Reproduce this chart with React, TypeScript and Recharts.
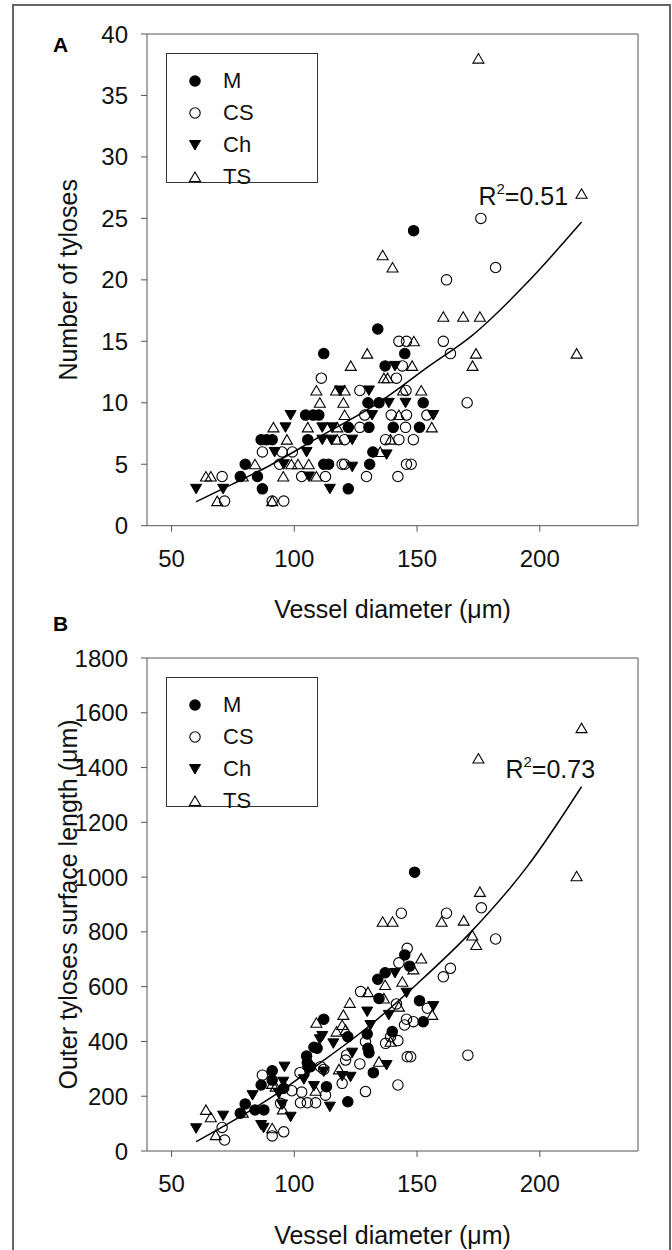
import {
    ComposedChart,
    Scatter,
    Line,
    XAxis,
    YAxis,
    Legend,
    Label,
    ReferenceLine,
    ReferenceDot,
} from 'recharts';

const FONT = '"Liberation Sans", Arial, sans-serif';
const AXIS = '#555';

type Pt = [number, number];

// Panel A: number of tyloses vs vessel diameter
const tylM: Pt[] = [
    [80, 5], [78, 4], [85, 4], [87, 3], [86.5, 7], [88.7, 7], [91, 7], [134, 16],
    [112, 14], [145, 14], [137, 13], [130, 10], [134.5, 10], [152.5, 10], [104.6, 9],
    [107.7, 9], [110, 9], [122, 8], [130.4, 8], [140.3, 8], [151, 8], [105.5, 7],
    [112, 5], [114, 5], [130.7, 5], [132, 6], [122, 3], [148.6, 24],
];
const tylCS: Pt[] = [
    [70.6, 4], [71.6, 2], [87, 6], [95, 6], [91, 2], [95.7, 2], [94, 5], [142.6, 15],
    [145.7, 15], [160.7, 15], [163.6, 14], [144, 13], [111, 12], [141.6, 12], [126.7, 11],
    [145.5, 11], [170.4, 10], [128.7, 9], [139.5, 9], [145.7, 9], [154, 9], [126.7, 8],
    [145.3, 8], [120.5, 7], [137.2, 7], [142.6, 7], [148.5, 7], [99.2, 6], [119.5, 5],
    [120.5, 5], [145.7, 5], [147.6, 5], [103, 4], [112.7, 4], [129.4, 4], [142.2, 4],
    [176, 25], [182, 21], [162, 20],
];
const tylCh: Pt[] = [
    [60, 3], [71, 3], [92, 6], [96.4, 8], [98.5, 9], [131.7, 9], [156.6, 9], [141, 13],
    [118.6, 11], [130.4, 11], [138.5, 10], [145.3, 10], [111.4, 8], [115.5, 8], [105, 6],
    [137.6, 5.8], [95.7, 5], [123.6, 4.8], [114.5, 3], [111.4, 7], [115.1, 7], [123.6, 7],
    [106, 4],
];
const tylTS: Pt[] = [
    [64, 4], [66, 4], [68.6, 2], [79, 4], [84, 5], [91.5, 8], [97, 7], [91, 2], [95.5, 4],
    [148.7, 15], [129.7, 14], [123, 13], [148, 13], [136.5, 12], [138, 12], [109, 11],
    [117, 11], [120.5, 11], [144.3, 11], [151.7, 11], [110.4, 10], [120, 10], [120.5, 9],
    [142.6, 9], [105.5, 8], [117.5, 8], [156, 8], [117.5, 7], [139.2, 7], [135, 6],
    [98.8, 5], [101.5, 5], [105.9, 5], [109, 4], [175, 38], [217, 27], [160.7, 17],
    [168.8, 17], [175.6, 17], [174, 14], [172.6, 13], [215, 14], [136, 22], [140, 21],
];
const tylFit: Pt[] = [
    [60, 1.95], [75, 3.4], [90, 4.9], [110, 7.2], [135, 10.1], [155, 13], [172, 15.4],
    [195, 19.8], [217, 24.7],
];

// Panel B: outer tyloses surface length vs vessel diameter
const lenM: Pt[] = [
    [80, 172], [78, 138], [91, 293], [86.5, 241], [91, 259], [84, 150], [87.6, 150],
    [95.7, 229], [145, 716], [147, 675], [137, 651], [134, 627], [134.5, 557], [151, 549],
    [152.5, 472], [112, 481], [121.8, 417], [129.7, 427], [139.9, 436], [108, 379],
    [109.3, 375], [130, 375], [130.4, 359], [105, 347], [105.3, 322], [106.6, 308],
    [132.2, 286], [113.1, 235], [121.8, 180], [149, 1018],
];
const lenCS: Pt[] = [
    [70.6, 86], [71.6, 40], [87, 277], [91, 55], [95.7, 70], [94.4, 174], [143.6, 868],
    [162, 868], [146, 740], [142.6, 687], [163.6, 667], [160.7, 636], [127, 582],
    [141.6, 537], [154.2, 521], [145.7, 481], [148.5, 472], [144.9, 460], [139.2, 417],
    [142.2, 403], [137.2, 393], [129, 399], [121.3, 350], [120.9, 332], [126.7, 318],
    [146, 344], [147.4, 344], [102.3, 286], [110.7, 308], [112, 298], [119.5, 247],
    [129, 217], [142.2, 241], [112.7, 204], [102.5, 176], [105.3, 176], [108.7, 176],
    [170.7, 350], [176.2, 888], [182, 774], [99, 220], [103, 215],
];
const lenCh: Pt[] = [
    [71, 129], [60, 83], [83, 204], [86.5, 95], [87.5, 85], [96, 308], [95.5, 253],
    [93.7, 210], [95, 170], [141, 650], [145.7, 578], [156.6, 529], [129.7, 509],
    [138.5, 497], [131, 460], [111.4, 420], [110.4, 408], [115.9, 393], [123.6, 359],
    [137.6, 314], [105.5, 293], [112, 290], [119.5, 274], [122.9, 271], [103.9, 262],
    [108, 237], [98.5, 125], [114.5, 162],
];
const lenTS: Pt[] = [
    [64, 150], [66, 123], [68, 58], [79, 140], [91, 83], [91, 245], [95.3, 152],
    [136, 837], [140, 837], [160, 837], [169, 841], [151.7, 703], [148.5, 663], [144, 618],
    [137, 606], [130, 580], [136.5, 557], [122.6, 541], [142.6, 527], [156.2, 497],
    [109, 468], [120, 497], [119.5, 460], [120.9, 442], [117.2, 436], [139.2, 399],
    [134.5, 326], [118.2, 298], [108.7, 220], [92.4, 235], [217, 1544], [175, 1433],
    [215, 1003], [175.6, 946], [172.5, 787], [174.1, 752],
];
const lenFit: Pt[] = [
    [60, 34], [75, 110], [90, 192], [110, 318], [131, 460], [150, 610], [172, 800],
    [195, 1040], [217, 1330],
];

const xTicks = [50, 100, 150, 200];
const tylTicks = [0, 5, 10, 15, 20, 25, 30, 35, 40];
const lenTicks = [0, 200, 400, 600, 800, 1000, 1200, 1400, 1600, 1800];

const groups = ['M', 'CS', 'Ch', 'TS'];

const toPts = (arr: Pt[]) => arr.map(([x, y]) => ({ x, y }));

function Marker({ kind, cx, cy }: { kind: string; cx: number; cy: number }) {
    if (kind === 'M' || kind === 'CS') {
        return (
            <circle
                cx={cx}
                cy={cy}
                r={5.2}
                fill={kind === 'M' ? '#000' : 'none'}
                stroke="#000"
                strokeWidth={1.1}
            />
        );
    }
    if (kind === 'Ch') {
        return (
            <polygon
                points={`${cx - 5.5},${cy - 4.5} ${cx + 5.5},${cy - 4.5} ${cx},${cy + 5}`}
                fill="#000"
                stroke="#000"
                strokeWidth={1}
            />
        );
    }
    return (
        <polygon
            points={`${cx - 5.5},${cy + 4.5} ${cx + 5.5},${cy + 4.5} ${cx},${cy - 5}`}
            fill="none"
            stroke="#000"
            strokeWidth={1.1}
        />
    );
}

const shapeFor = (kind: string) => (props: any) => (
    <Marker kind={kind} cx={props.cx} cy={props.cy} />
);

function LegendBox() {
    return (
        <div
            style={{
                position: 'relative',
                width: 152,
                height: 130,
                border: '1px solid #333',
                background: '#fff',
                boxSizing: 'border-box',
                fontFamily: FONT,
            }}
        >
            {groups.map((g, i) => (
                <div
                    key={g}
                    style={{
                        position: 'absolute',
                        left: 0,
                        top: 11 + i * 32,
                        height: 32,
                        display: 'flex',
                        alignItems: 'center',
                    }}
                >
                    <svg width={56} height={32}>
                        <Marker kind={g} cx={28} cy={16} />
                    </svg>
                    <span style={{ fontSize: 22, color: '#111' }}>{g}</span>
                </div>
            ))}
        </div>
    );
}

function R2Text({ cx, cy, value }: { cx: number; cy: number; value: string }) {
    return (
        <text x={cx} y={cy} fontSize={25} fontFamily={FONT} fill="#111">
            R
            <tspan fontSize={15} dy={-11}>
                2
            </tspan>
            <tspan dy={11}>={value}</tspan>
        </text>
    );
}

type PanelProps = {
    height: number;
    yMax: number;
    yTicks: number[];
    yTitle: string;
    series: Pt[][];
    fit: Pt[];
    r2: string;
    r2At: Pt;
};

function Panel({ height, yMax, yTicks, yTitle, series, fit, r2, r2At }: PanelProps) {
    const tick = { fill: '#111', fontSize: 24, fontFamily: FONT };
    return (
        <ComposedChart
            width={672}
            height={height}
            margin={{ top: 34, right: 34, bottom: height - 34 - 60 - (yMax === 40 ? 491.7 : 493), left: 0 }}
        >
            <XAxis
                type="number"
                dataKey="x"
                domain={[40, 240]}
                ticks={xTicks}
                tick={tick}
                tickSize={6}
                tickMargin={18}
                height={60}
                stroke={AXIS}
                allowDataOverflow
            >
                <Label
                    value="Vessel diameter (μm)"
                    position="bottom"
                    offset={15}
                    style={{ fontSize: 25, fontFamily: FONT, fill: '#111' }}
                />
            </XAxis>
            <YAxis
                type="number"
                dataKey="y"
                domain={[0, yMax]}
                ticks={yTicks}
                tick={tick}
                tickSize={6}
                tickMargin={13}
                width={147}
                stroke={AXIS}
                allowDataOverflow
            >
                <Label
                    value={yTitle}
                    angle={-90}
                    position="insideLeft"
                    offset={68}
                    style={{ fontSize: 25, fontFamily: FONT, fill: '#111', textAnchor: 'middle' }}
                />
            </YAxis>
            <ReferenceLine y={yMax} stroke={AXIS} strokeWidth={1} />
            <ReferenceLine x={240} stroke={AXIS} strokeWidth={1} />
            {series.map((s, i) => (
                <Scatter
                    key={groups[i]}
                    name={groups[i]}
                    data={toPts(s)}
                    shape={shapeFor(groups[i])}
                    isAnimationActive={false}
                />
            ))}
            <Line
                data={toPts(fit)}
                dataKey="y"
                type="monotone"
                stroke="#000"
                strokeWidth={1.5}
                dot={false}
                activeDot={false}
                legendType="none"
                isAnimationActive={false}
            />
            <ReferenceDot
                x={r2At[0]}
                y={r2At[1]}
                r={0}
                shape={(p: any) => <R2Text cx={p.cx} cy={p.cy} value={r2} />}
            />
            <Legend
                layout="vertical"
                align="center"
                verticalAlign="middle"
                content={() => <LegendBox />}
                wrapperStyle={{ left: 166, top: 53, width: 152, height: 130 }}
            />
        </ComposedChart>
    );
}

export default function App() {
    return (
        <div
            style={{
                position: 'absolute',
                left: 0,
                top: 0,
                width: 672,
                height: 1250,
                overflow: 'hidden',
                background: '#fff',
                fontFamily: FONT,
            }}
        >
            <div
                style={{
                    position: 'absolute',
                    left: 12,
                    top: 4,
                    width: 659,
                    height: 1300,
                    border: '2px solid #666',
                    boxSizing: 'border-box',
                }}
            />
            <div style={{ position: 'absolute', left: 0, top: 0 }}>
                <Panel
                    height={625}
                    yMax={40}
                    yTicks={tylTicks}
                    yTitle="Number of tyloses"
                    series={[tylM, tylCS, tylCh, tylTS]}
                    fit={tylFit}
                    r2="0.51"
                    r2At={[175, 26.1]}
                />
            </div>
            <div style={{ position: 'absolute', left: 0, top: 624 }}>
                <Panel
                    height={626}
                    yMax={1800}
                    yTicks={lenTicks}
                    yTitle="Outer tyloses surface length (μm)"
                    series={[lenM, lenCS, lenCh, lenTS]}
                    fit={lenFit}
                    r2="0.73"
                    r2At={[186, 1362]}
                />
            </div>
            <div style={{ position: 'absolute', left: 53, top: 33, fontSize: 21, fontWeight: 'bold' }}>A</div>
            <div style={{ position: 'absolute', left: 53, top: 612, fontSize: 21, fontWeight: 'bold' }}>B</div>
        </div>
    );
}
